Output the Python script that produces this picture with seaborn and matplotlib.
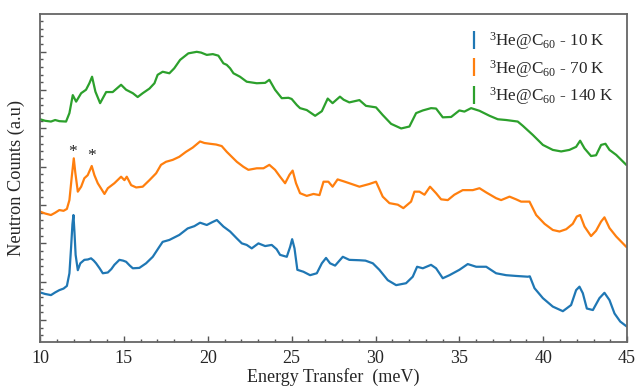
import pandas as pd
import matplotlib
matplotlib.use('Agg')
import matplotlib.pyplot as plt
import seaborn as sns
from matplotlib.lines import Line2D
from matplotlib.ticker import MultipleLocator, NullFormatter

pts_10K = [(10.0, 0.72), (10.3, 0.68), (10.65, 0.65), (10.9, 0.72), (11.15, 0.78), (11.4, 0.82),
           (11.6, 0.89), (11.75, 1.22), (11.85, 1.9), (11.93, 2.5), (11.99, 2.74), (12.05, 2.3),
           (12.12, 1.7), (12.25, 1.3), (12.4, 1.48), (12.64, 1.57), (12.85, 1.58), (13.04, 1.61),
           (13.2, 1.55), (13.34, 1.48), (13.55, 1.35), (13.74, 1.22), (14.04, 1.24), (14.25, 1.33),
           (14.43, 1.44), (14.73, 1.57), (14.95, 1.55), (15.13, 1.52), (15.35, 1.42), (15.53, 1.35),
           (15.92, 1.36), (16.32, 1.48), (16.72, 1.65), (17.11, 1.91), (17.31, 2.04), (17.71, 2.09),
           (18.3, 2.22), (18.8, 2.39), (19.2, 2.45), (19.54, 2.54), (19.94, 2.48), (20.25, 2.55),
           (20.54, 2.61), (20.93, 2.44), (21.33, 2.31), (21.73, 2.13), (22.03, 2.0), (22.32, 1.96),
           (22.62, 1.87), (23.02, 2.0), (23.42, 1.93), (23.81, 1.96), (24.1, 1.85), (24.31, 1.70),
           (24.71, 1.65), (24.91, 1.91), (25.03, 2.11), (25.17, 1.87), (25.34, 1.31), (25.7, 1.26),
           (26.1, 1.17), (26.5, 1.22), (26.8, 1.48), (27.05, 1.62), (27.29, 1.48), (27.59, 1.42),
           (28.05, 1.65), (28.44, 1.57), (29.04, 1.56), (29.4, 1.55), (29.84, 1.48), (30.23, 1.31),
           (30.73, 1.04), (31.23, 0.91), (31.82, 0.96), (32.22, 1.13), (32.48, 1.39), (32.82, 1.35),
           (33.31, 1.44), (33.61, 1.35), (34.01, 1.09), (34.41, 1.17), (35.0, 1.31), (35.5, 1.46),
           (36.0, 1.39), (36.6, 1.39), (37.19, 1.22), (37.79, 1.17), (38.38, 1.15), (39.08, 1.13),
           (39.2, 1.14), (39.48, 0.83), (39.98, 0.57), (40.57, 0.35), (41.17, 0.23), (41.66, 0.39),
           (41.96, 0.78), (42.16, 0.87), (42.36, 0.70), (42.6, 0.30), (42.96, 0.26), (43.35, 0.57),
           (43.65, 0.71), (43.95, 0.52), (44.25, 0.17), (44.59, -0.04), (44.95, -0.16), (45.0, -0.17)]

pts_70K = [(10.0, 2.83), (10.3, 2.78), (10.65, 2.74), (10.9, 2.80), (11.15, 2.87), (11.4, 2.85),
           (11.6, 2.90), (11.75, 3.13), (11.89, 3.74), (12.01, 4.22), (12.1, 3.85), (12.25, 3.35),
           (12.45, 3.48), (12.64, 3.70), (12.84, 3.78), (13.08, 4.02), (13.24, 3.78), (13.44, 3.57),
           (13.84, 3.29), (14.04, 3.44), (14.43, 3.57), (14.83, 3.74), (15.03, 3.65), (15.17, 3.74),
           (15.43, 3.52), (15.73, 3.46), (16.12, 3.48), (16.52, 3.65), (16.92, 3.83), (17.21, 4.05),
           (17.51, 4.13), (17.91, 4.18), (18.3, 4.26), (18.7, 4.39), (19.1, 4.50), (19.54, 4.66),
           (19.8, 4.62), (20.13, 4.60), (20.5, 4.58), (20.83, 4.54), (21.13, 4.39), (21.43, 4.26),
           (21.73, 4.13), (22.12, 4.0), (22.42, 3.92), (22.92, 3.96), (23.32, 3.96), (23.67, 4.05),
           (24.01, 3.92), (24.31, 3.74), (24.61, 3.57), (24.87, 3.79), (25.06, 3.90), (25.26, 3.57),
           (25.5, 3.31), (25.9, 3.24), (26.3, 3.29), (26.66, 3.26), (26.9, 3.61), (27.19, 3.61),
           (27.44, 3.48), (27.74, 3.67), (28.1, 3.62), (28.44, 3.57), (29.04, 3.48), (29.63, 3.55),
           (30.03, 3.61), (30.43, 3.22), (30.83, 3.05), (31.33, 3.01), (31.66, 2.92), (32.12, 3.09),
           (32.32, 3.35), (32.62, 3.35), (32.92, 3.27), (33.25, 3.48), (33.61, 3.31), (33.91, 3.15),
           (34.31, 3.13), (34.7, 3.27), (35.2, 3.39), (35.8, 3.39), (36.2, 3.44), (36.6, 3.33),
           (37.19, 3.18), (37.49, 3.13), (37.99, 3.22), (38.38, 3.15), (38.68, 3.09), (39.18, 3.09),
           (39.58, 2.74), (40.08, 2.51), (40.57, 2.35), (40.97, 2.31), (41.37, 2.37), (41.76, 2.51),
           (42.0, 2.70), (42.2, 2.74), (42.46, 2.44), (42.85, 2.19), (43.15, 2.33), (43.45, 2.57),
           (43.65, 2.68), (43.95, 2.40), (44.35, 2.18), (44.95, 1.91), (45.0, 1.90)]

pts_140K = [(10.0, 5.24), (10.3, 5.20), (10.65, 5.18), (10.9, 5.22), (11.15, 5.19), (11.55, 5.18),
            (11.75, 5.40), (11.95, 5.87), (12.15, 5.70), (12.45, 5.92), (12.74, 6.01), (12.94, 6.18),
            (13.1, 6.35), (13.3, 5.96), (13.58, 5.66), (13.94, 5.95), (14.33, 5.95), (14.83, 6.14),
            (15.13, 6.01), (15.53, 5.92), (15.82, 5.82), (16.12, 5.92), (16.52, 6.04), (16.82, 6.18),
            (17.01, 6.40), (17.31, 6.48), (17.71, 6.44), (18.0, 6.57), (18.35, 6.79), (18.84, 6.96),
            (19.34, 7.0), (19.6, 6.98), (19.94, 6.92), (20.3, 6.94), (20.63, 6.90), (20.93, 6.70),
            (21.13, 6.66), (21.33, 6.57), (21.53, 6.44), (21.92, 6.35), (22.32, 6.22), (22.92, 6.18),
            (23.42, 6.19), (23.67, 6.27), (24.01, 6.01), (24.41, 5.79), (24.81, 5.80), (25.0, 5.77),
            (25.31, 5.61), (25.5, 5.53), (25.9, 5.48), (26.4, 5.33), (26.8, 5.45), (27.15, 5.78),
            (27.44, 5.66), (27.88, 5.83), (28.1, 5.75), (28.44, 5.68), (29.04, 5.74), (29.43, 5.59),
            (30.03, 5.55), (30.43, 5.35), (30.93, 5.12), (31.53, 5.0), (32.02, 5.05), (32.42, 5.40),
            (32.82, 5.47), (33.31, 5.53), (33.61, 5.52), (34.01, 5.29), (34.51, 5.30), (35.0, 5.47),
            (35.3, 5.44), (35.7, 5.53), (36.2, 5.46), (36.8, 5.33), (37.29, 5.24), (37.79, 5.22),
            (38.48, 5.18), (38.78, 5.07), (39.38, 4.83), (39.98, 4.57), (40.57, 4.44), (41.07, 4.40),
            (41.56, 4.44), (41.96, 4.52), (42.2, 4.68), (42.46, 4.48), (42.85, 4.28), (43.15, 4.30),
            (43.45, 4.57), (43.71, 4.60), (43.95, 4.44), (44.35, 4.31), (44.95, 4.05), (45.0, 4.04)]

labels = [r'$^{3}$He@C$_{60}$ - 10 K', r'$^{3}$He@C$_{60}$ - 70 K', r'$^{3}$He@C$_{60}$ - 140 K']
colors = ['#1f77b4', '#ff7f0e', '#2ca02c']
# asterisks marking the two peaks in the 70 K spectrum
star_x = [11.95, 13.04]
star_y = [4.39, 4.29]

frames = []
for lab, pts in zip(labels, [pts_10K, pts_70K, pts_140K]):
    d = pd.DataFrame(pts, columns=['E', 'I'])
    d['T'] = lab
    frames.append(d)
df = pd.concat(frames, ignore_index=True)

sns.set_style('ticks')
plt.rcParams['font.family'] = ['Liberation Serif', 'DejaVu Serif']
plt.rcParams['mathtext.fontset'] = 'custom'
plt.rcParams['mathtext.rm'] = 'Liberation Serif'
plt.rcParams['mathtext.it'] = 'Liberation Serif:italic'

fig, ax = plt.subplots(figsize=(6.36, 3.86), dpi=100)
fig.subplots_adjust(left=0.063, right=0.986, top=0.964, bottom=0.114)

sns.lineplot(data=df, x='E', y='I', hue='T', palette=colors, linewidth=1.6,
             sort=False, legend=False, ax=ax)

for sx, sy in zip(star_x, star_y):
    ax.text(sx, sy, '*', ha='center', va='center', fontsize=12.5, color='#222222')

ax.set_xlim(10, 45)
ax.set_ylim(-0.574, 7.99)
ax.xaxis.set_major_locator(MultipleLocator(5))
ax.xaxis.set_minor_locator(MultipleLocator(1))
ax.yaxis.set_major_locator(MultipleLocator(1))
ax.yaxis.set_minor_locator(MultipleLocator(0.2))
ax.yaxis.set_major_formatter(NullFormatter())
ax.tick_params(which='both', direction='in', color='#555555', width=1)
ax.tick_params(which='major', length=4, labelsize=13, pad=6)
ax.tick_params(which='minor', length=2)
for sp in ax.spines.values():
    sp.set_color('#666666')
    sp.set_linewidth(1.3)

ax.set_xlabel('Energy Transfer  (meV)', fontsize=13, labelpad=0.5)
ax.set_ylabel('Neutron Counts (a.u)', fontsize=13.2, labelpad=4.5)

handles = [Line2D([], [], color=c, marker='|', linestyle='None', markersize=13,
                  markeredgewidth=1.6) for c in colors]
ax.legend(handles, labels, loc='upper left', bbox_to_anchor=(0.695, 0.997), frameon=False,
          fontsize=12.3, handlelength=1.2, handletextpad=0.3, labelspacing=0.33)

fig.savefig('out.png', dpi=100)
